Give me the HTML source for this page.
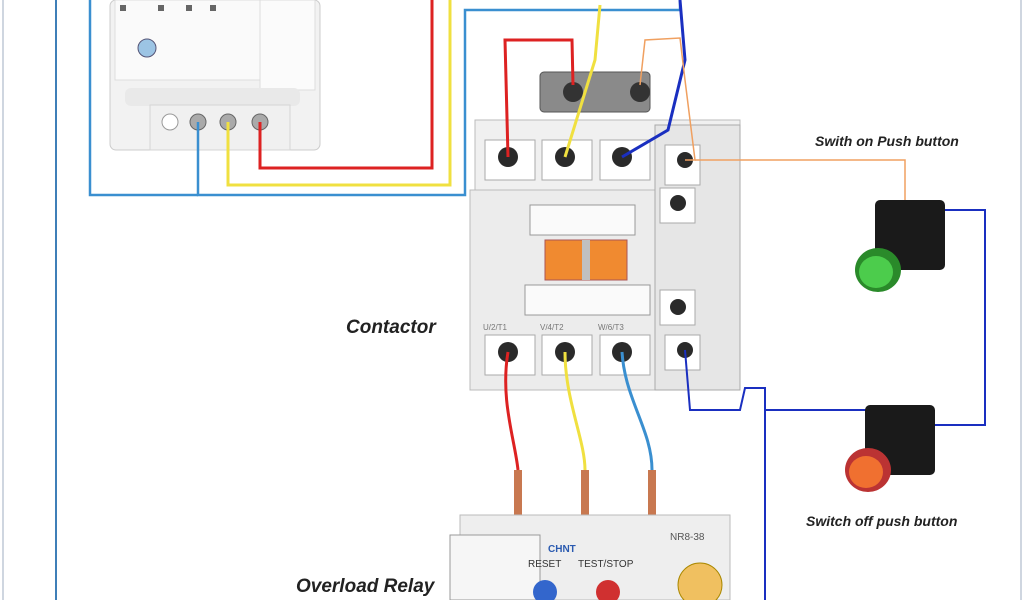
<!DOCTYPE html>
<html><head><meta charset="utf-8"><style>
body{margin:0;background:#fff;width:1024px;height:600px;overflow:hidden;font-family:"Liberation Sans",sans-serif}
</style></head><body>
<svg width="1024" height="600" viewBox="0 0 1024 600" xmlns="http://www.w3.org/2000/svg">
<rect width="1024" height="600" fill="#fff"/>
<line x1="3" y1="0" x2="3" y2="600" stroke="#cfd6e0" stroke-width="2"/>
<line x1="1021" y1="0" x2="1021" y2="600" stroke="#cfd6e0" stroke-width="2"/>
<line x1="56" y1="0" x2="56" y2="600" stroke="#3f7fb8" stroke-width="2"/>
<rect x="110" y="0" width="210" height="150" rx="6" fill="#f2f2f2" stroke="#ccc"/>
<rect x="115" y="0" width="150" height="80" fill="#fafafa" stroke="#ddd"/>
<rect x="260" y="0" width="55" height="90" fill="#fbfbfb" stroke="#ddd"/>
<rect x="125" y="88" width="175" height="18" rx="6" fill="#e9e9e9"/>
<rect x="150" y="105" width="140" height="45" fill="#f0f0f0" stroke="#d5d5d5"/>
<circle cx="147" cy="48" r="9" fill="#9cc4e4" stroke="#557"/>
<g fill="#666"><rect x="120" y="5" width="6" height="6"/><rect x="158" y="5" width="6" height="6"/><rect x="186" y="5" width="6" height="6"/><rect x="210" y="5" width="6" height="6"/></g>
<circle cx="170" cy="122" r="8" fill="#fff" stroke="#999"/>
<circle cx="198" cy="122" r="8" fill="#aaa" stroke="#666"/>
<circle cx="228" cy="122" r="8" fill="#aaa" stroke="#666"/>
<circle cx="260" cy="122" r="8" fill="#aaa" stroke="#666"/>
<polyline points="260,122 260,168 432,168 432,0" fill="none" stroke="#d22" stroke-width="3"/>
<polyline points="228,122 228,185 450,185 450,0" fill="none" stroke="#f0e040" stroke-width="3"/>
<polyline points="198,122 198,195 465,195 465,10 680,10 680,0" fill="none" stroke="#3a8fd0" stroke-width="2.5"/>
<polyline points="90,0 90,195 198,195" fill="none" stroke="#3a8fd0" stroke-width="2.5"/>
<rect x="540" y="72" width="110" height="40" rx="4" fill="#8a8a8a" stroke="#555"/>
<circle cx="573" cy="92" r="10" fill="#333"/><circle cx="640" cy="92" r="10" fill="#333"/>
<rect x="475" y="120" width="265" height="70" fill="#f0f0f0" stroke="#bbb"/>
<rect x="470" y="190" width="200" height="200" fill="#ececec" stroke="#bbb"/>
<rect x="655" y="125" width="85" height="265" fill="#e6e6e6" stroke="#aaa"/>
<rect x="530" y="205" width="105" height="30" fill="#fafafa" stroke="#999"/>
<rect x="545" y="240" width="82" height="40" fill="#f08a30" stroke="#a55"/>
<rect x="582" y="240" width="8" height="40" fill="#c0c0c0"/>
<rect x="525" y="285" width="125" height="30" fill="#fafafa" stroke="#999"/>
<g fill="#fff" stroke="#aaa">
<rect x="485" y="140" width="50" height="40"/><rect x="542" y="140" width="50" height="40"/><rect x="600" y="140" width="50" height="40"/>
<rect x="485" y="335" width="50" height="40"/><rect x="542" y="335" width="50" height="40"/><rect x="600" y="335" width="50" height="40"/>
<rect x="665" y="145" width="35" height="40"/><rect x="660" y="188" width="35" height="35"/><rect x="660" y="290" width="35" height="35"/><rect x="665" y="335" width="35" height="35"/>
</g>
<g fill="#2a2a2a"><circle cx="508" cy="157" r="10"/><circle cx="565" cy="157" r="10"/><circle cx="622" cy="157" r="10"/>
<circle cx="508" cy="352" r="10"/><circle cx="565" cy="352" r="10"/><circle cx="622" cy="352" r="10"/>
<circle cx="685" cy="160" r="8"/><circle cx="678" cy="203" r="8"/><circle cx="678" cy="307" r="8"/><circle cx="685" cy="350" r="8"/></g>
<text x="483" y="330" font-size="8" fill="#777">U/2/T1</text><text x="540" y="330" font-size="8" fill="#777">V/4/T2</text><text x="598" y="330" font-size="8" fill="#777">W/6/T3</text>
<polyline points="508,157 505,40 572,40 573,85" fill="none" stroke="#d22" stroke-width="3"/>
<polyline points="565,157 595,60 600,5" fill="none" stroke="#f0e040" stroke-width="3"/>
<polyline points="622,157 668,130 685,60 680,0" fill="none" stroke="#1a2fc0" stroke-width="3"/>
<polyline points="640,85 645,40 680,38 685,80 695,160 685,160" fill="none" stroke="#f0a060" stroke-width="1.5"/>
<polyline points="695,160 905,160 905,200" fill="none" stroke="#f0a060" stroke-width="1.5"/>
<path d="M508,352 C500,400 515,440 518,470" fill="none" stroke="#d22" stroke-width="3"/>
<path d="M565,352 C565,400 585,440 585,470" fill="none" stroke="#f0e040" stroke-width="3"/>
<path d="M622,352 C625,400 652,430 652,470" fill="none" stroke="#3a8fd0" stroke-width="3"/>
<g fill="#c87850"><rect x="514" y="470" width="8" height="55"/><rect x="581" y="470" width="8" height="52"/><rect x="648" y="470" width="8" height="50"/></g>
<rect x="460" y="515" width="270" height="85" fill="#eee" stroke="#bbb"/>
<rect x="450" y="535" width="90" height="65" fill="#f6f6f6" stroke="#999"/>
<text x="548" y="552" font-size="10" fill="#2a5ab0" font-weight="bold">CHNT</text>
<text x="670" y="540" font-size="10" fill="#555">NR8-38</text>
<text x="528" y="567" font-size="10" fill="#333">RESET</text>
<text x="578" y="567" font-size="10" fill="#333">TEST/STOP</text>
<circle cx="545" cy="592" r="12" fill="#3366cc"/><circle cx="608" cy="592" r="12" fill="#d03030"/>
<circle cx="700" cy="585" r="22" fill="#f0c060" stroke="#a80"/>
<polyline points="685,350 690,410 740,410 745,388 765,388 765,600" fill="none" stroke="#1a2fc0" stroke-width="2"/>
<polyline points="930,210 985,210 985,425 925,425" fill="none" stroke="#1a2fc0" stroke-width="2"/>
<polyline points="765,410 890,410" fill="none" stroke="#1a2fc0" stroke-width="2"/>
<rect x="875" y="200" width="70" height="70" rx="5" fill="#1a1a1a"/>
<ellipse cx="878" cy="270" rx="23" ry="22" fill="#2a8a2a"/><ellipse cx="876" cy="272" rx="17" ry="16" fill="#4ccc4c"/>
<rect x="865" y="405" width="70" height="70" rx="5" fill="#1a1a1a"/>
<ellipse cx="868" cy="470" rx="23" ry="22" fill="#b33"/><ellipse cx="866" cy="472" rx="17" ry="16" fill="#f07030"/>
<g font-style="italic" font-weight="bold" fill="#222">
<text x="815" y="146" font-size="14">Swith on Push button</text>
<text x="806" y="526" font-size="14">Switch off push button</text>
<text x="346" y="333" font-size="19">Contactor</text>
<text x="296" y="592" font-size="19">Overload Relay</text>
</g>
</svg>
</body></html>
